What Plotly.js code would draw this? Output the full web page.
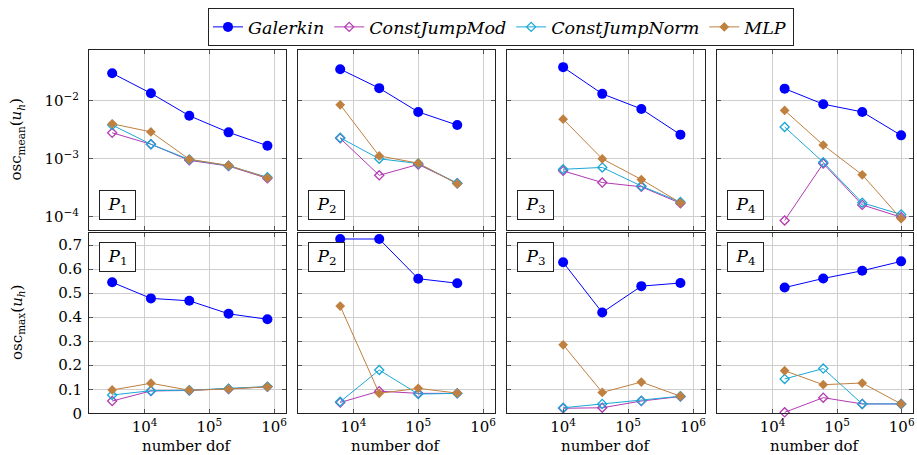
<!DOCTYPE html>
<html>
<head>
<meta charset="utf-8">
<script src="https://cdn.plot.ly/plotly-3.0.1.min.js"></script>
<style>html,body{margin:0;padding:0;background:#fff;}#chart{width:917px;height:455px;}</style>
</head>
<body>
<div id="chart"></div>
<script>
// ---------- data ----------
const seriesNames = ["Galerkin", "ConstJumpMod", "ConstJumpNorm", "MLP"];
const panelLabels = ["1", "2", "3", "4"];

const dofP1 = [3150, 12500, 49000, 198000, 790000];
const dofP2 = [6250, 25000, 100000, 400000];
const dofP3 = [10000, 40000, 160000, 640000];
const dofP4 = [15400, 61000, 245000, 980000];

// osc_mean
const galMeanP1  = [0.0296, 0.0134, 0.0055, 0.00285, 0.00168];
const modMeanP1  = [0.0028, 0.00178, 0.00094, 0.00075, 0.00046];
const normMeanP1 = [0.0038, 0.00178, 0.00097, 0.00076, 0.00048];
const mlpMeanP1  = [0.0040, 0.0029, 0.00098, 0.00077, 0.00047];

const galMeanP2  = [0.0348, 0.0164, 0.0064, 0.0038];
const modMeanP2  = [0.00225, 0.00052, 0.0008, 0.00038];
const normMeanP2 = [0.0023, 0.0010, 0.00083, 0.00038];
const mlpMeanP2  = [0.0085, 0.00112, 0.00084, 0.00037];

const galMeanP3  = [0.0377, 0.0131, 0.0072, 0.0026];
const modMeanP3  = [0.00062, 0.00039, 0.00033, 0.000172];
const normMeanP3 = [0.00066, 0.00071, 0.00034, 0.00018];
const mlpMeanP3  = [0.0048, 0.0010, 0.00044, 0.000175];

const galMeanP4  = [0.0161, 0.0087, 0.0064, 0.00253];
const modMeanP4  = [0.0000867, 0.00083, 0.000161, 0.0000989];
const normMeanP4 = [0.00352, 0.00087, 0.000175, 0.00011];
const mlpMeanP4  = [0.0068, 0.00172, 0.00053, 0.000093];

// osc_max
const galMaxP1  = [0.545, 0.478, 0.468, 0.414, 0.391];
const modMaxP1  = [0.051, 0.093, 0.095, 0.101, 0.110];
const normMaxP1 = [0.076, 0.094, 0.096, 0.102, 0.111];
const mlpMaxP1  = [0.097, 0.125, 0.096, 0.101, 0.110];

const galMaxP2  = [0.725, 0.725, 0.560, 0.541];
const modMaxP2  = [0.045, 0.092, 0.083, 0.083];
const normMaxP2 = [0.048, 0.180, 0.080, 0.083];
const mlpMaxP2  = [0.446, 0.083, 0.104, 0.084];

const galMaxP3  = [0.628, 0.419, 0.529, 0.542];
const modMaxP3  = [0.021, 0.023, 0.051, 0.070];
const normMaxP3 = [0.023, 0.039, 0.052, 0.071];
const mlpMaxP3  = [0.285, 0.087, 0.130, 0.071];

const galMaxP4  = [0.523, 0.561, 0.593, 0.632];
const modMaxP4  = [0.004, 0.065, 0.039, 0.039];
const normMaxP4 = [0.143, 0.186, 0.039, 0.039];
const mlpMaxP4  = [0.177, 0.119, 0.126, 0.039];

const xTickVals = [1e4, 1e5, 1e6];
const xTickText = ["10<sup>4</sup>", "10<sup>5</sup>", "10<sup>6</sup>"];
const yLogTickVals = [1e-4, 1e-3, 1e-2];
const yLogTickText = ["10<sup>−4</sup>", "10<sup>−3</sup>", "10<sup>−2</sup>"];
const yLinTickVals = [0, 0.1, 0.2, 0.3, 0.4, 0.5, 0.6, 0.7];
const yLinTickText = ["0", "0.1", "0.2", "0.3", "0.4", "0.5", "0.6", "0.7"];

// ---------- styling ----------
const colors = ["#0000ff", "#b23ab2", "#1ba8d6", "#bf8040"];
const markers = [
  {symbol: "circle", size: 10, line: {width: 0}},
  {symbol: "diamond-open", size: 7, line: {width: 1.3}},
  {symbol: "diamond-open", size: 7, line: {width: 1.3}},
  {symbol: "diamond", size: 7.5, line: {width: 0}}
];
const serif = "'DejaVu Serif', 'Liberation Serif', serif";

const dofs = [dofP1, dofP2, dofP3, dofP4];
const meanData = [
  [galMeanP1, modMeanP1, normMeanP1, mlpMeanP1],
  [galMeanP2, modMeanP2, normMeanP2, mlpMeanP2],
  [galMeanP3, modMeanP3, normMeanP3, mlpMeanP3],
  [galMeanP4, modMeanP4, normMeanP4, mlpMeanP4]
];
const maxData = [
  [galMaxP1, modMaxP1, normMaxP1, mlpMaxP1],
  [galMaxP2, modMaxP2, normMaxP2, mlpMaxP2],
  [galMaxP3, modMaxP3, normMaxP3, mlpMaxP3],
  [galMaxP4, modMaxP4, normMaxP4, mlpMaxP4]
];

const W = 917, H = 455;
const colPx = [[89, 285.7], [297.7, 494.7], [507.3, 704.7], [717, 913.3]];
const topRowPx = [49.5, 229.7];
const botRowPx = [233, 413.3];
const px2x = p => p / W;
const px2y = p => 1 - p / H;

const traces = [];
for (let p = 0; p < 4; p++) {
  for (let s = 0; s < 4; s++) {
    const base = {
      type: "scatter", mode: "lines+markers",
      name: seriesNames[s], legendgroup: seriesNames[s],
      line: {color: colors[s], width: 1},
      marker: Object.assign({color: colors[s]}, markers[s], {line: Object.assign({}, markers[s].line, {color: colors[s]})}),
      cliponaxis: false
    };
    traces.push(Object.assign({}, base, {
      x: dofs[p], y: meanData[p][s],
      xaxis: "x" + (p + 1), yaxis: "y" + (p + 1),
      showlegend: p === 0
    }));
    traces.push(Object.assign({}, base, {
      x: dofs[p], y: maxData[p][s],
      xaxis: "x" + (p + 5), yaxis: "y" + (p + 5),
      showlegend: false
    }));
  }
}

const tickFont = {family: serif, size: 15, color: "#000"};
const common = {
  showline: true, mirror: "ticks", linecolor: "#222", linewidth: 1,
  ticks: "inside", ticklen: 4, tickcolor: "#555", tickwidth: 1,
  showgrid: true, gridcolor: "#cfcfcf", gridwidth: 1,
  zeroline: false, tickfont: tickFont, fixedrange: true
};

const layout = {
  width: W, height: H,
  margin: {l: 0, r: 0, t: 0, b: 0},
  paper_bgcolor: "#fff", plot_bgcolor: "#fff",
  font: {family: serif},
  showlegend: true,
  legend: {
    orientation: "h", x: 501 / W, xanchor: "center", y: px2y(8), yanchor: "top",
    bordercolor: "#222", borderwidth: 1,
    font: {family: serif, size: 17.5, style: "italic", color: "#000"},
    itemsizing: "trace", tracegroupgap: 0
  },
  annotations: []
};

for (let p = 0; p < 4; p++) {
  const xd = [px2x(colPx[p][0]), px2x(colPx[p][1])];
  const xTop = Object.assign({}, common, {
    type: "log", domain: xd, range: [3.14, 6.18], anchor: "y" + (p + 1),
    tickvals: xTickVals, ticktext: xTickText, showticklabels: false
  });
  const xBot = Object.assign({}, common, {
    type: "log", domain: xd, range: [3.14, 6.18], anchor: "y" + (p + 5),
    tickvals: xTickVals, ticktext: xTickText, showticklabels: true
  });
  const yTop = Object.assign({}, common, {
    type: "log", domain: [px2y(topRowPx[1]), px2y(topRowPx[0])], range: [-4.22, -1.12],
    anchor: "x" + (p + 1), tickvals: yLogTickVals, ticktext: yLogTickText,
    showticklabels: p === 0, ticklabelstandoff: 6
  });
  const yBot = Object.assign({}, common, {
    type: "linear", domain: [px2y(botRowPx[1]), px2y(botRowPx[0])], range: [0, 0.75],
    anchor: "x" + (p + 5), tickvals: yLinTickVals, ticktext: yLinTickText,
    showticklabels: p === 0, ticklabelstandoff: 3
  });
  layout["xaxis" + (p + 1)] = xTop;
  layout["xaxis" + (p + 5)] = xBot;
  layout["yaxis" + (p + 1)] = yTop;
  layout["yaxis" + (p + 5)] = yBot;

  const lab = "<i>P</i><sub>" + panelLabels[p] + "</sub>";
  const boxStyle = {
    showarrow: false, text: lab, font: {family: serif, size: 17, color: "#000"},
    bordercolor: "#222", borderwidth: 1, borderpad: 2, bgcolor: "#fff",
    width: 31, height: 24, xanchor: "left", align: "center"
  };
  layout.annotations.push(Object.assign({}, boxStyle, {
    xref: "x" + (p + 1) + " domain", yref: "y" + (p + 1) + " domain",
    x: 10 / 196.7, y: 9.4 / 180.2, yanchor: "bottom"
  }));
  layout.annotations.push(Object.assign({}, boxStyle, {
    xref: "x" + (p + 5) + " domain", yref: "y" + (p + 5) + " domain",
    x: 10 / 196.7, y: 1 - 9.3 / 180.3, yanchor: "top"
  }));
  layout.annotations.push({
    showarrow: false, text: "number dof", font: {family: serif, size: 15, color: "#000"},
    xref: "paper", yref: "paper", x: (xd[0] + xd[1]) / 2, y: px2y(446), xanchor: "center", yanchor: "middle"
  });
}
layout.annotations.push({
  showarrow: false, text: "osc<sub>mean</sub>(<i>u<sub>h</sub></i>)", textangle: -90,
  font: {family: serif, size: 15, color: "#000"},
  xref: "paper", yref: "paper", x: px2x(17), y: px2y(139.6), xanchor: "center", yanchor: "middle"
});
layout.annotations.push({
  showarrow: false, text: "osc<sub>max</sub>(<i>u<sub>h</sub></i>)", textangle: -90,
  font: {family: serif, size: 15, color: "#000"},
  xref: "paper", yref: "paper", x: px2x(17), y: px2y(323), xanchor: "center", yanchor: "middle"
});

Plotly.newPlot("chart", traces, layout, {staticPlot: true, displayModeBar: false});
</script>
</body>
</html>
